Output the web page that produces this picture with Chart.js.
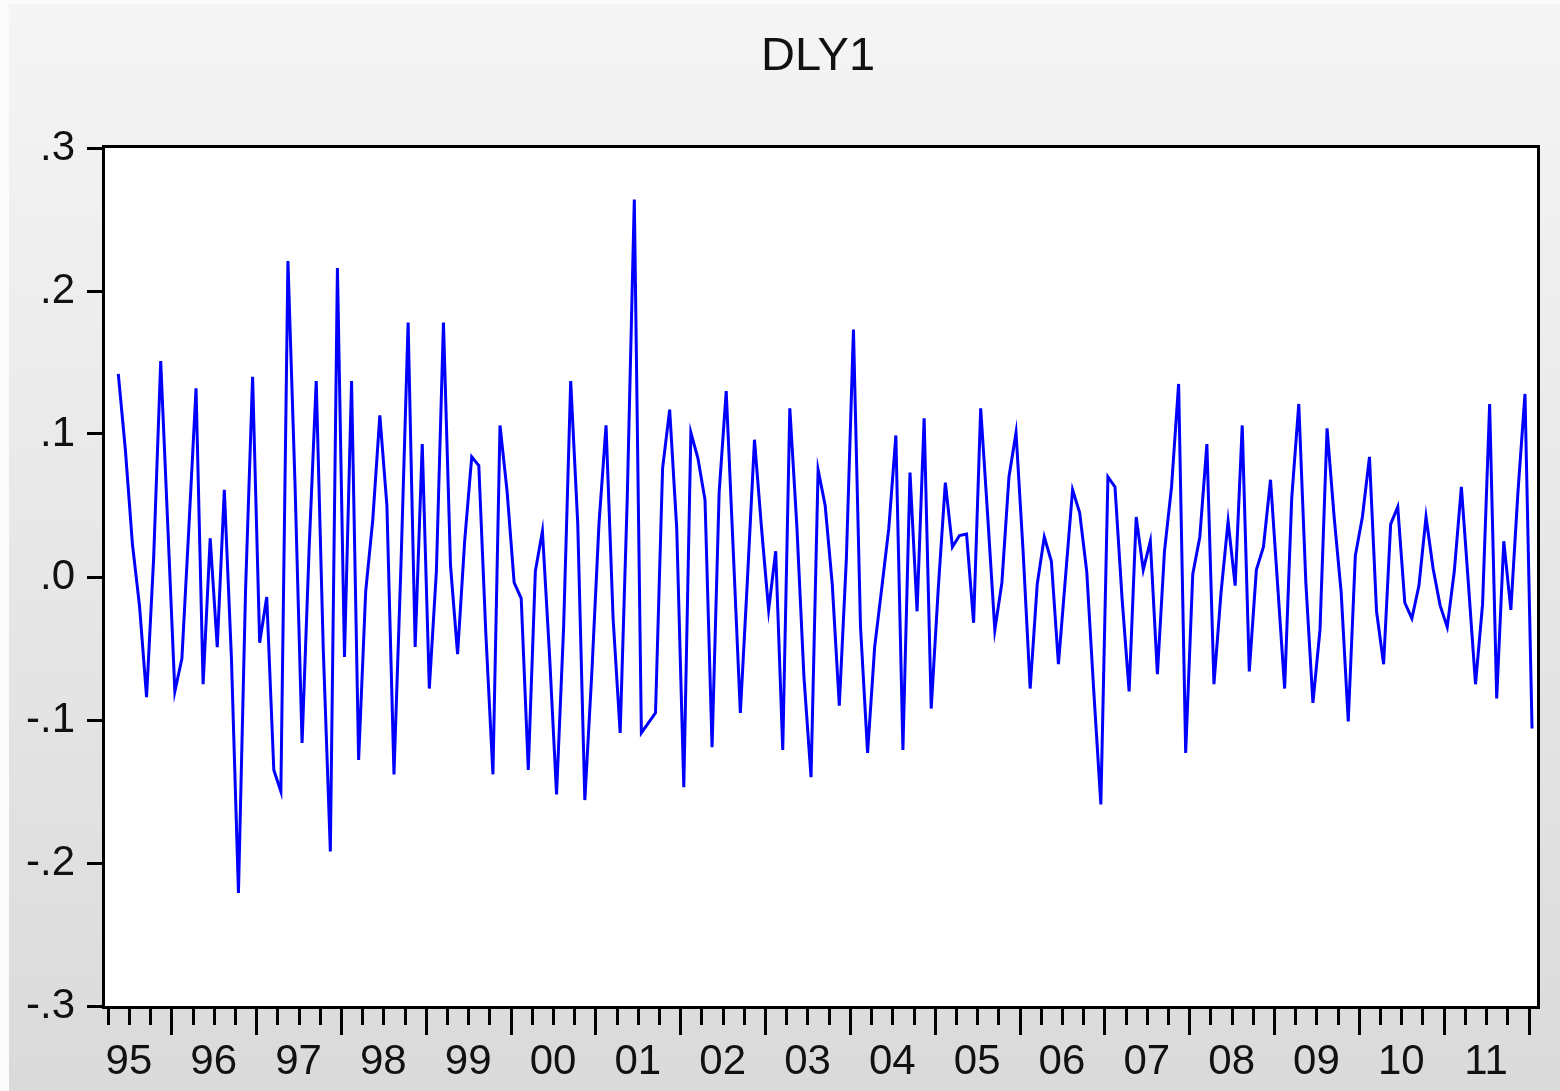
<!DOCTYPE html>
<html>
<head>
<meta charset="utf-8">
<script src="https://cdn.jsdelivr.net/npm/chart.js@4.4.1/dist/chart.umd.min.js"></script>
<style>
  html, body { margin: 0; padding: 0; overflow: hidden; background: #e8e8e8; }
  canvas { display: block; }
</style>
</head>
<body>
<canvas id="c" width="1560" height="1091"></canvas>
<script>
// ---- data ----
const chartTitle = 'DLY1';
// year labels shown on the x axis (1995 .. 2011)
const yearLabels = ['95','96','97','98','99','00','01','02','03','04','05','06','07','08','09','10','11'];
// monthly observations, 1995M5 .. 2012M1
const firstObs = { year: 1995, month: 5 };
const dly1 = [
  0.142, 0.089, 0.023, -0.020, -0.084, 0.013, 0.151, 0.036, -0.080, -0.057,
  0.036, 0.132, -0.075, 0.027, -0.049, 0.061, -0.056, -0.221, -0.010, 0.140,
  -0.046, -0.014, -0.135, -0.150, 0.221, 0.065, -0.116, 0.020, 0.137, -0.051,
  -0.192, 0.216, -0.056, 0.137, -0.128, -0.010, 0.040, 0.113, 0.050, -0.138,
  0.010, 0.178, -0.049, 0.093, -0.078, 0.004, 0.178, 0.008, -0.054, 0.025,
  0.084, 0.078, -0.040, -0.138, 0.106, 0.060, -0.004, -0.015, -0.135, 0.004,
  0.032, -0.054, -0.152, -0.035, 0.137, 0.037, -0.156, -0.066, 0.037, 0.106,
  -0.029, -0.109, 0.055, 0.264, -0.109, -0.102, -0.095, 0.076, 0.117, 0.034,
  -0.147, 0.101, 0.083, 0.054, -0.119, 0.059, 0.130, 0.018, -0.095, -0.002,
  0.096, 0.034, -0.023, 0.018, -0.121, 0.118, 0.035, -0.070, -0.140, 0.075,
  0.050, -0.005, -0.090, 0.013, 0.173, -0.035, -0.123, -0.049, -0.008, 0.034,
  0.099, -0.121, 0.073, -0.024, 0.111, -0.092, -0.008, 0.066, 0.021, 0.029,
  0.030, -0.032, 0.118, 0.042, -0.037, -0.004, 0.070, 0.101, 0.018, -0.078,
  -0.005, 0.028, 0.011, -0.061, 0.000, 0.061, 0.045, 0.004, -0.080, -0.159,
  0.070, 0.063, -0.015, -0.080, 0.042, 0.005, 0.025, -0.068, 0.018, 0.063,
  0.135, -0.123, 0.002, 0.028, 0.093, -0.075, -0.011, 0.039, -0.006, 0.106,
  -0.066, 0.005, 0.021, 0.068, -0.005, -0.078, 0.055, 0.121, -0.004, -0.088,
  -0.037, 0.104, 0.042, -0.011, -0.101, 0.015, 0.042, 0.084, -0.024, -0.061,
  0.037, 0.049, -0.018, -0.029, -0.006, 0.042, 0.006, -0.020, -0.035, 0.004,
  0.063, -0.005, -0.075, -0.019, 0.121, -0.085, 0.025, -0.023, 0.059, 0.128,
  -0.106
];
const yTickValues = [-0.3, -0.2, -0.1, 0.0, 0.1, 0.2, 0.3];

// ---- helpers (positions in "observation index" units) ----
const janFirstYear = (1 - firstObs.month);            // index of Jan of first labelled year
const yearCenters = yearLabels.map((_, k) => janFirstYear + 12 * k - 0.5 + 6);
const quarterBounds = [];
for (let q = -3; q <= 64; q++) {
  quarterBounds.push({ v: janFirstYear + 12 - 0.5 + 3 * q, major: (q % 4 === 0) });
}

const FONT = "'Liberation Sans', Arial, Helvetica, sans-serif";

const framePlugin = {
  id: 'frame',
  beforeDraw(chart) {
    const { ctx, width, height, chartArea: a } = chart;
    ctx.save();
    const g = ctx.createLinearGradient(0, 0, 0, height);
    g.addColorStop(0, '#f5f5f5');
    g.addColorStop(1, '#dadada');
    ctx.fillStyle = g;
    ctx.fillRect(0, 0, width, height);
    ctx.fillStyle = '#fbfbfb';
    ctx.fillRect(0, 0, 9, height);
    ctx.fillRect(0, 0, width, 4);
    ctx.fillStyle = '#ffffff';
    ctx.fillRect(a.left, a.top, a.right - a.left, a.bottom - a.top);
    // title
    ctx.fillStyle = '#111';
    ctx.font = "47px " + FONT;
    ctx.textAlign = 'center';
    ctx.textBaseline = 'middle';
    ctx.fillText(chartTitle, (a.left + a.right) / 2 - 3, 57);
    ctx.restore();
  },
  afterDatasetsDraw(chart) {
    const { ctx, chartArea: a } = chart;
    const xs = chart.scales.x;
    ctx.save();
    ctx.strokeStyle = '#000';
    ctx.lineWidth = 3;
    ctx.strokeRect(a.left - 1.5, a.top - 1.5, a.right - a.left + 3, a.bottom - a.top + 3);
    ctx.beginPath();
    quarterBounds.forEach(t => {
      const px = Math.round(xs.getPixelForValue(t.v)) + 0.5;
      if (px < a.left - 3 || px > a.right + 3) return;
      ctx.moveTo(px, a.bottom + 2);
      ctx.lineTo(px, a.bottom + (t.major ? 29 : 19));
    });
    ctx.stroke();
    ctx.restore();
  }
};

new Chart(document.getElementById('c'), {
  type: 'line',
  data: {
    datasets: [{
      label: chartTitle,
      data: dly1.map((v, i) => ({ x: i, y: v })),
      borderColor: '#0000ff',
      borderWidth: 3,
      pointRadius: 0,
      tension: 0,
      fill: false,
      borderJoinStyle: 'miter'
    }]
  },
  options: {
    responsive: false,
    devicePixelRatio: 1,
    animation: false,
    layout: { padding: { left: 0, right: 23, top: 148, bottom: 0 } },
    plugins: {
      legend: { display: false },
      tooltip: { enabled: false },
      title: { display: false }
    },
    scales: {
      x: {
        type: 'linear',
        min: -1.88,
        max: 200.7,
        afterFit(s) { s.height = 85; },
        afterBuildTicks(s) { s.ticks = yearCenters.map(v => ({ value: v })); },
        grid: { display: false, drawTicks: false },
        border: { display: false },
        ticks: {
          autoSkip: false,
          maxRotation: 0,
          padding: 31,
          color: '#111',
          font: { family: FONT, size: 42, lineHeight: 1.2 },
          callback(v) {
            const k = yearCenters.indexOf(v);
            return k >= 0 ? yearLabels[k] : '';
          }
        }
      },
      y: {
        min: -0.3,
        max: 0.3,
        afterFit(s) { s.width = 105; },
        afterBuildTicks(s) { s.ticks = yTickValues.map(v => ({ value: v })); },
        grid: { drawOnChartArea: false, drawTicks: true, tickLength: 18, color: '#000', lineWidth: 3 },
        border: { display: false },
        ticks: {
          padding: 12,
          color: '#111',
          font: { family: FONT, size: 42, lineHeight: 1.2 },
          callback(v) {
            return Number(v).toFixed(1).replace(/^(-?)0\./, '$1.');
          }
        }
      }
    }
  },
  plugins: [framePlugin]
});
</script>
</body>
</html>
